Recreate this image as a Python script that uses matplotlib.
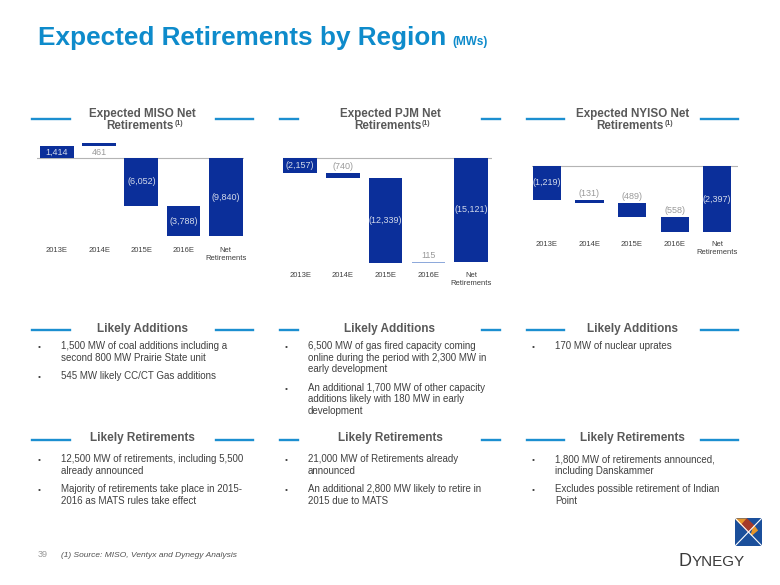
import matplotlib
matplotlib.use('Agg')
import matplotlib.pyplot as plt
from matplotlib.patches import Polygon, Rectangle

plt.rcParams['font.family'] = ['Liberation Sans', 'DejaVu Sans']

# 데이터
years = ['2013E', '2014E', '2015E', '2016E', 'Net\nRetirements']

miso_vals = [1414, 461, -6052, -3788, -9840]
miso_start = [0, 1414, 0, -6052, 0]
pjm_vals = [-2157, -740, -12339, 115, -15121]
pjm_start = [0, -2157, -2897, -15236, 0]
nyiso_vals = [-1219, -131, -489, -558, -2397]
nyiso_start = [0, -1219, -1350, -1839, 0]

miso_adds = ["1,500 MW of coal additions including a\nsecond 800 MW Prairie State unit",
             "545 MW likely CC/CT Gas additions"]
miso_rets = ["12,500 MW of retirements, including 5,500\nalready announced",
             "Majority of retirements take place in 2015-\n2016 as MATS rules take effect"]
pjm_adds = ["6,500 MW of gas fired capacity coming\nonline during the period with 2,300 MW in\nearly development",
            "An additional 1,700 MW of other capacity\nadditions likely with 180 MW in early\ndevelopment"]
pjm_rets = ["21,000 MW of Retirements already\nannounced",
            "An additional 2,800 MW likely to retire in\n2015 due to MATS"]
nyiso_adds = ["170 MW of nuclear uprates"]
nyiso_rets = ["1,800 MW of retirements announced,\nincluding Danskammer",
              "Excludes possible retirement of Indian\nPoint"]

DARK = '#0B2F9A'
LIGHT = '#8EA9DB'
BLUE = '#1C8FD0'
GREY = '#595959'
TXT = '#404040'

W, H = 780, 585
fig = plt.figure(figsize=(7.8, 5.85), dpi=100)
rend = fig.canvas.get_renderer()


def fx(x):
    return x / W


def fy(y):
    return 1 - y / H


def fmt(v):
    return f"({abs(v):,})" if v < 0 else f"{v:,}"


def hline(x0, x1, y):
    fig.add_artist(plt.Line2D([fx(x0), fx(x1)], [fy(y), fy(y)], color=BLUE, lw=1.7))


def waterfall(rect, xlim, ylim, vals, starts, places, colors, width, pad):
    l, t, r, b = rect
    ax = fig.add_axes([fx(l), fy(b), (r - l) / W, (b - t) / H])
    ax.set_xlim(*xlim)
    ax.set_ylim(*ylim)
    ax.axhline(0, color='#B4B4B4', lw=0.8, zorder=0)
    ax.bar(range(len(vals)), vals, bottom=starts, width=width, color=colors, zorder=2)
    for i, (v, s, p) in enumerate(zip(vals, starts, places)):
        top = max(s, s + v)
        bot = min(s, s + v)
        if p == 'in':
            ax.text(i, s + v / 2, fmt(v), ha='center', va='center', fontsize=6.5, color='#D3DAEA', zorder=3)
        elif p == 'above':
            ax.annotate(fmt(v), (i, top), xytext=(0, 1.2), textcoords='offset points',
                        ha='center', va='bottom', fontsize=6.5, color='#9A9A9A')
        else:
            ax.annotate(fmt(v), (i, bot), xytext=(0, -1.0), textcoords='offset points',
                        ha='center', va='top', fontsize=6.5, color='#9A9A9A')
    ax.set_xticks(range(len(years)), years)
    ax.tick_params(axis='x', length=0, pad=pad, labelsize=5.5, colors=TXT)
    ax.set_yticks([])
    for sp in ax.spines.values():
        sp.set_visible(False)
    ax.patch.set_alpha(0)
    return ax


def header(cx, lines_x, y1, y2, title):
    fig.text(fx(cx), fy(y1), title, ha='center', va='baseline', fontsize=8.4,
             fontweight='bold', color=GREY)
    t = fig.text(0, fy(y2), "Retirements", ha='left', va='baseline', fontsize=8.4,
                 fontweight='bold', color=GREY)
    s = fig.text(0, fy(y2 - 4), "(1)", ha='left', va='baseline', fontsize=5,
                 fontweight='bold', color=GREY)
    w1 = t.get_window_extent(rend).width
    w2 = s.get_window_extent(rend).width
    x0 = cx - (w1 + w2) / 2 + 2
    t.set_x(fx(x0))
    s.set_x(fx(x0 + w1 + 0.5))
    hline(lines_x[0], lines_x[1], 119.3)
    hline(lines_x[2], lines_x[3], 119.3)


def section(cx, lines_x, y_line, y_base, title):
    fig.text(fx(cx), fy(y_base), title, ha='center', va='baseline', fontsize=8.5,
             fontweight='bold', color=GREY)
    hline(lines_x[0], lines_x[1], y_line)
    hline(lines_x[2], lines_x[3], y_line)


def bullets(xb, xt, y0, items):
    y = y0
    for item in items:
        fig.text(fx(xb), fy(y), '•', fontsize=6, color=TXT, va='baseline')
        for line in item.split('\n'):
            fig.text(fx(xt), fy(y), line, fontsize=7, color=TXT, va='baseline')
            y += 11.65
        y += 18.3 - 11.65


# 제목
fig.text(fx(38), fy(45), "Expected Retirements by Region", fontsize=18.8, fontweight='bold',
         color='#0E8BCB', va='baseline')
fig.text(fx(452), fy(45), "(MWs)", fontsize=8.5, fontweight='bold', color='#0E8BCB', va='baseline')

# 차트
waterfall((37, 135, 244, 240), (-0.47, 4.43), (-10300, 2841), miso_vals, miso_start,
          ['in', 'below', 'in', 'in', 'in'], [DARK] * 5, 0.8, 4.7)
waterfall((283, 140, 492, 265), (-0.40, 4.49), (-15596, 2573), pjm_vals, pjm_start,
          ['in', 'above', 'in', 'above', 'in'], [DARK, DARK, DARK, LIGHT, DARK], 0.78, 4.7)
waterfall((532, 145, 738, 235), (-0.35, 4.49), (-2516, 780), nyiso_vals, nyiso_start,
          ['in', 'above', 'above', 'above', 'in'], [DARK] * 5, 0.66, 4.0)

miso_lx = (32, 70, 216, 253)
pjm_lx = (280, 298, 482, 500)
nyiso_lx = (527, 564, 701, 738)

header(142.5, miso_lx, 116.8, 128.8, "Expected MISO Net")
header(390, pjm_lx, 116.8, 128.8, "Expected PJM Net")
header(632.5, nyiso_lx, 116.8, 128.8, "Expected NYISO Net")

for cx, lx in [(142.5, miso_lx), (390, pjm_lx), (632.5, nyiso_lx)]:
    section(cx, lx, 330, 332, "Likely Additions")
    section(cx, lx, 440, 441.5, "Likely Retirements")

bullets(38, 61, 349, miso_adds)
bullets(38, 61, 462.3, miso_rets)
bullets(285, 308, 349, pjm_adds)
bullets(285, 308, 462.3, pjm_rets)
bullets(532, 555, 349, nyiso_adds)
bullets(532, 555, 462.3, nyiso_rets)

# 각주
fig.text(fx(38), fy(557), "39", fontsize=6.5, color='#9A9A9A', va='baseline')
fig.text(fx(61), fy(557), "(1) Source: MISO, Ventyx and Dynegy Analysis", fontsize=6,
         style='italic', color='#505050', va='baseline')

# 로고
lg = fig.add_axes([fx(735), fy(546), 27 / W, 28 / H])
lg.set_xlim(0, 1)
lg.set_ylim(1, 0)
lg.axis('off')
lg.add_patch(Rectangle((0, 0), 1, 1, color='#1B4F9B'))
lg.add_patch(Polygon([(0.04, 0.04), (0.44, 0.04), (0.25, 0.25)], color='#E8962A'))
lg.add_patch(Polygon([(0.44, 0.04), (0.7, 0.28), (0.5, 0.5), (0.25, 0.25)], color='#A63A2A'))
lg.add_patch(Polygon([(0.7, 0.28), (0.82, 0.44), (0.6, 0.62)], color='#E8962A'))
lg.plot([0.02, 0.98], [0.02, 0.98], color='white', lw=0.8)
lg.plot([0.98, 0.02], [0.02, 0.98], color='white', lw=0.8)

fig.text(fx(678), fy(566), "D", fontsize=13, color='#3A3A3A', va='baseline')
fig.text(fx(691.5), fy(566), "YNEGY", fontsize=11, color='#3A3A3A', va='baseline')

fig.savefig('out.png', dpi=100)
